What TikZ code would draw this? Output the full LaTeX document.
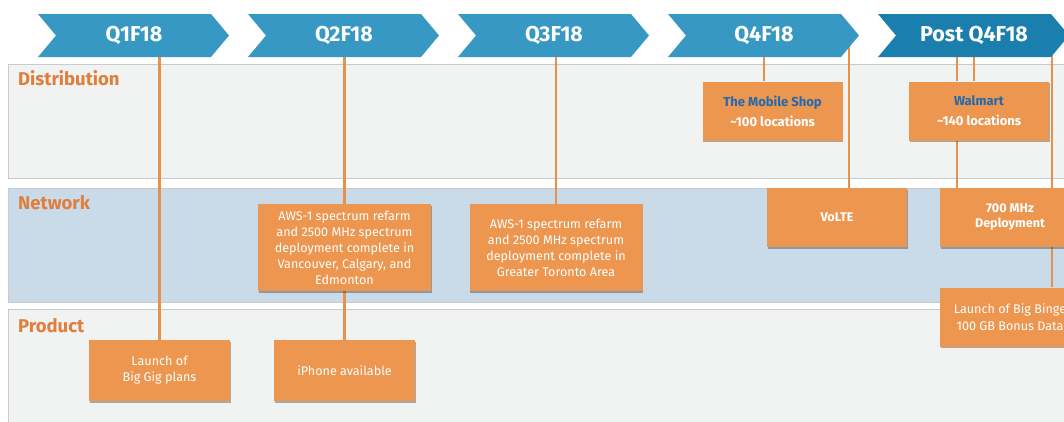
\documentclass[tikz,border=0pt]{standalone}
\usepackage{fontspec}
\setmainfont{Fira Sans}
\usepackage{tikz}
\usetikzlibrary{calc,shadows}
\definecolor{tlblue}{RGB}{54,152,195}
\definecolor{tlpost}{RGB}{27,127,174}
\definecolor{tllane}{RGB}{241,242,242}
\definecolor{tlnet}{RGB}{201,218,233}
\definecolor{tledge}{RGB}{200,203,204}
\definecolor{tlbox}{RGB}{236,150,80}
\definecolor{tlline}{RGB}{232,145,77}
\definecolor{tllabel}{RGB}{224,126,60}
\definecolor{tltext}{RGB}{35,105,175}
\pgfdeclarelayer{lanes}
\pgfdeclarelayer{links}
\pgfsetlayers{lanes,links,main}
\tikzset{
  qtr/.style={text=white, font=\fontsize{21.5}{24}\selectfont\bfseries, inner sep=1pt},
  lane/.style={draw=tledge, line width=0.9pt},
  lanetxt/.style={anchor=west, text=tllabel, inner sep=0pt,
    font=\fontsize{18.5}{22}\selectfont\bfseries},
  evbox/.style={
    fill=tlbox, text=white, align=center, inner sep=2pt,
    font=\fontsize{12.6}{16}\selectfont,
    drop shadow={shadow xshift=0.6pt, shadow yshift=-1.6pt, opacity=0.3, fill=black}
  },
  ebox/.style={evbox, minimum width=140pt, minimum height=59pt},
  dbox/.style={ebox, font=\fontsize{13}{20}\selectfont\bfseries},
  wbox/.style={evbox, minimum width=173pt, minimum height=87pt},
  pbox/.style={evbox, minimum width=141pt, minimum height=61pt},
  link/.style={draw=tlline, line width=2.4pt}
}

\begin{document}
\begin{tikzpicture}[x=1pt, y=-1pt]
  \useasboundingbox (0,0) rectangle (1064,421);
  \clip (0,0) rectangle (1064,421);

  % swim lanes
  \begin{pgfonlayer}{lanes}
    \fill[white] (0,0) rectangle (1064,421);
    \filldraw[lane, fill=tllane] (8,64) rectangle (1070,178);
    \filldraw[lane, fill=tlnet] (8,188) rectangle (1070,302);
    \filldraw[lane, fill=tllane] (8,309) rectangle (1070,430);
  \end{pgfonlayer}
  \node[lanetxt] (ldist) at (18,78) {Distribution};
  \node[lanetxt] (lnet) at (18,203) {Network};
  \node[lanetxt] (lprod) at (18,326) {Product};

  % quarters
  \foreach \i/\nm/\lbl/\col in {0/q1/Q1F18/tlblue, 1/q2/Q2F18/tlblue,
      2/q3/Q3F18/tlblue, 3/q4/Q4F18/tlblue, 4/post/Post Q4F18/tlpost} {
    \pgfmathsetmacro\L{38+210*\i}
    \fill[\col] (\L,14) -- ++(173,0) -- ++(18,21.5) -- ++(-18,21.5)
      -- ++(-173,0) -- ++(18,-21.5) -- cycle;
    \node[qtr] (\nm) at (\L+96,35.5) {\lbl};
  }

  % events
  \node[dbox] (shop) at (772.5,111) {\textcolor{tltext}{The Mobile Shop}\\\textasciitilde100 locations};
  \node[dbox] (walmart) at (979,111) {\textcolor{tltext}{Walmart}\\\textasciitilde140 locations};
  \node[ebox, font=\fontsize{12.6}{16}\selectfont\bfseries] (volte) at (837,217.5) {VoLTE};
  \node[ebox, font=\fontsize{12.6}{15}\selectfont\bfseries] (mhz) at (1010,217.5) {700 MHz\\Deployment};
  \node[wbox] (aws1) at (344.5,247.5) {AWS-1 spectrum refarm\\and 2500 MHz spectrum\\deployment complete in\\Vancouver, Calgary, and\\Edmonton};
  \node[wbox] (aws2) at (556,247.5) {AWS-1 spectrum refarm\\and 2500 MHz spectrum\\deployment complete in\\Greater Toronto Area};
  \node[ebox, font=\fontsize{12.6}{17}\selectfont] (binge) at (1010,317) {Launch of Big Binge\\100 GB Bonus Data};
  \node[pbox] (gig) at (159.5,370.5) {Launch of\\Big Gig plans};
  \node[pbox] (iphone) at (344.5,370.5) {iPhone available};

  % ties from quarter to event
  \begin{pgfonlayer}{links}
    \draw[link] (gig.north) -- (gig.north |- q1.center);
    \draw[link] (aws1.north) -- (aws1.north |- q2.center);
    \draw[link] (aws1.south) -- (iphone.north);
    \draw[link] (aws2.north) -- (aws2.north |- q3.center);
    \draw[link] (q4.center) -- (q4.center |- shop.north);
    \draw[link] ($(volte.north)+(12,0)$) coordinate (vt) -- (vt |- q4.center);
    \draw[link] (post.center) -- (post.center |- walmart.north);
    \draw[link] ($(walmart.north)+(-22,0)$) coordinate (wa) -- (wa |- post.center);
    \draw[link] ($(walmart.south)+(-22,0)$) coordinate (wb) -- (wb |- mhz.north);
    \draw[link] ($(mhz.north)+(42,0)$) coordinate (mt) -- (mt |- post.center);
    \draw[link] ($(mhz.south)+(42,0)$) coordinate (mb) -- (mb |- binge.north);
  \end{pgfonlayer}
\end{tikzpicture}
\end{document}
